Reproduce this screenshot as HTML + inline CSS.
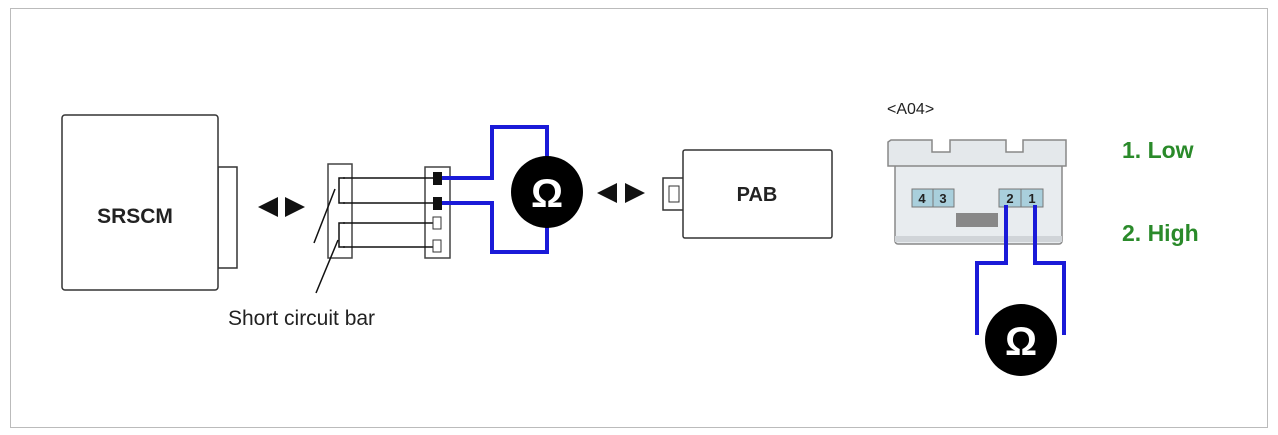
<!DOCTYPE html>
<html><head><meta charset="utf-8"><style>
html,body{margin:0;padding:0;background:#fff;}
svg{display:block;font-family:"Liberation Sans",sans-serif;}
</style></head><body>
<svg width="1278" height="435" viewBox="0 0 1278 435" xmlns="http://www.w3.org/2000/svg">
<rect x="10.5" y="8.5" width="1257" height="419" fill="#fff" stroke="#bbb" stroke-width="1"/>
<!-- SRSCM -->
<rect x="218" y="167" width="19" height="101" fill="#fff" stroke="#333" stroke-width="1.5"/>
<rect x="62" y="115" width="156" height="175" rx="3" fill="#fff" stroke="#333" stroke-width="1.5"/>
<text x="135" y="223" font-size="21" font-weight="bold" text-anchor="middle" fill="#222">SRSCM</text>
<!-- arrows -->
<polygon points="258,207 278,197 278,217" fill="#111"/>
<polygon points="305,207 285,197 285,217" fill="#111"/>
<polygon points="597,193 617,183 617,203" fill="#111"/>
<polygon points="645,193 625,183 625,203" fill="#111"/>
<!-- left connector -->
<rect x="328" y="164" width="24" height="94" fill="#fff" stroke="#444" stroke-width="1.5"/>
<rect x="425" y="167" width="25" height="91" fill="#fff" stroke="#444" stroke-width="1.5"/>
<g stroke="#111" stroke-width="1.5" fill="none">
<path d="M345,178 H339 V203 H345"/>
<path d="M345,223 H339 V247 H345"/>
<line x1="343" y1="178" x2="434" y2="178"/>
<line x1="343" y1="203" x2="434" y2="203"/>
<line x1="343" y1="223" x2="434" y2="223"/>
<line x1="343" y1="247" x2="434" y2="247"/>
<line x1="314" y1="243" x2="335" y2="189"/>
<line x1="316" y1="293" x2="338" y2="240"/>
</g>
<rect x="433" y="172" width="9" height="13" fill="#111"/>
<rect x="433" y="197" width="9" height="13" fill="#111"/>
<rect x="433" y="217" width="8" height="12" fill="#fff" stroke="#333"/>
<rect x="433" y="240" width="8" height="12" fill="#fff" stroke="#333"/>
<text x="228" y="325" font-size="21" fill="#222">Short circuit bar</text>
<!-- blue wires left -->
<g stroke="#1a1ad8" stroke-width="4" fill="none">
<path d="M442,178 H492 V127 H547 V165"/>
<path d="M442,203 H492 V252 H547 V220"/>
</g>
<circle cx="547" cy="192" r="36" fill="#000"/>
<text x="547" y="207" font-size="40" font-weight="bold" fill="#fff" text-anchor="middle">Ω</text>
<!-- PAB -->
<rect x="663" y="178" width="21" height="32" fill="#fff" stroke="#333" stroke-width="1.5"/>
<rect x="669" y="186" width="10" height="16" fill="#fff" stroke="#333"/>
<rect x="683" y="150" width="149" height="88" rx="2" fill="#fff" stroke="#333" stroke-width="1.5"/>
<text x="757" y="201" font-size="20" font-weight="bold" text-anchor="middle" fill="#222">PAB</text>
<!-- A04 -->
<text x="887" y="114" font-size="16" fill="#222">&lt;A04&gt;</text>
<rect x="895" y="164" width="167" height="80" rx="3" fill="#e8ecef" stroke="#888" stroke-width="1.5"/>
<rect x="895" y="236" width="167" height="6" fill="#d0d4d8"/>
<path d="M891,140 H932 V152 H950 V140 H1006 V152 H1023 V140 H1066 V166 H888 V142 Z" fill="#e4e8eb" stroke="#888" stroke-width="1.5"/>
<rect x="912" y="189" width="21" height="18" fill="#a9cfdc" stroke="#777"/>
<rect x="933" y="189" width="21" height="18" fill="#a9cfdc" stroke="#777"/>
<rect x="999" y="189" width="22" height="18" fill="#a9cfdc" stroke="#777"/>
<rect x="1021" y="189" width="22" height="18" fill="#a9cfdc" stroke="#777"/>
<g font-size="13" font-weight="bold" fill="#222" text-anchor="middle">
<text x="922" y="203">4</text><text x="943" y="203">3</text>
<text x="1010" y="203">2</text><text x="1032" y="203">1</text>
</g>
<rect x="956" y="213" width="42" height="14" fill="#888"/>
<g stroke="#1a1ad8" stroke-width="4" fill="none">
<path d="M1006,205 V263 H977 V335"/>
<path d="M1035,205 V263 H1064 V335"/>
</g>
<circle cx="1021" cy="340" r="36" fill="#000"/>
<text x="1021" y="355" font-size="40" font-weight="bold" fill="#fff" text-anchor="middle">Ω</text>
<text x="1122" y="158" font-size="23" font-weight="bold" fill="#2a8a2a">1. Low</text>
<text x="1122" y="241" font-size="23" font-weight="bold" fill="#2a8a2a">2. High</text>
</svg>
</body></html>
